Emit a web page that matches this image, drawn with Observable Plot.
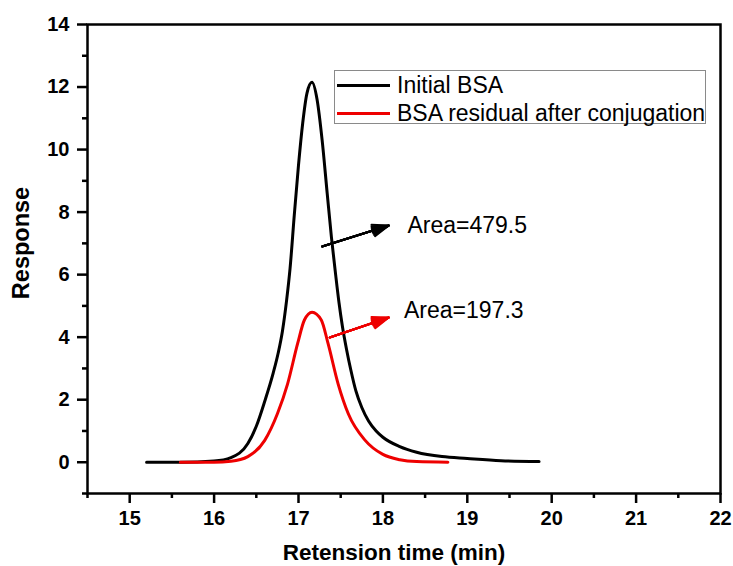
<!DOCTYPE html>
<html>
<head>
<meta charset="utf-8">
<script src="https://cdn.jsdelivr.net/npm/d3@7"></script>
<script src="https://cdn.jsdelivr.net/npm/@observablehq/plot@0.6"></script>
<style>
  html, body { margin: 0; padding: 0; background: #fff; }
  #wrap { position: relative; width: 733px; height: 566px; font-family: "Liberation Sans", Arial, sans-serif; }
  #legend { position: absolute; left: 334px; top: 70px; width: 372px; height: 54px; border: 1px solid #8a8a8a; background: #fff; box-sizing: border-box; }
  .row { position: absolute; left: 2px; height: 26px; display: flex; align-items: center; font-size: 23px; color: #000; white-space: nowrap; }
  .swatch { width: 53px; height: 3px; margin-right: 7px; }
  .title { position: absolute; font-weight: bold; color: #000; white-space: nowrap; line-height: 1; }
  #xtitle { left: 394px; top: 553px; font-size: 22.5px; transform: translate(-50%, -50%); }
  #ytitle { left: 22px; top: 243px; font-size: 23.5px; transform: translate(-50%, -50%) rotate(-90deg); }
</style>
</head>
<body>
<div id="wrap"></div>
<script>
// ---- data ----
const seriesNames = ["Initial BSA", "BSA residual after conjugation"];
const seriesColors = ["#000000", "#ee0000"];

const initialTime = [15.2, 15.6, 16.0, 16.2, 16.4, 16.5, 16.6, 16.7, 16.76, 16.81, 16.86, 16.9, 16.95, 17.0, 17.05, 17.1, 17.16, 17.22, 17.28, 17.34, 17.39, 17.44, 17.48, 17.52, 17.57, 17.62, 17.68, 17.75, 17.83, 17.92, 18.0, 18.2, 18.4, 18.7, 19.0, 19.4, 19.85];
const initialResponse = [0, 0, 0.04, 0.15, 0.6, 1.15, 1.95, 2.85, 3.5, 4.2, 5.2, 6.2, 7.9, 9.5, 10.85, 11.8, 12.15, 11.6, 10.3, 8.6, 7.2, 6.0, 5.1, 4.35, 3.6, 2.95, 2.28, 1.75, 1.32, 1.0, 0.8, 0.5, 0.32, 0.18, 0.12, 0.05, 0.02];

const residualTime = [15.6, 16.0, 16.2, 16.4, 16.6, 16.75, 16.87, 16.99, 17.07, 17.16, 17.27, 17.35, 17.47, 17.59, 17.79, 18.0, 18.2, 18.4, 18.77];
const residualResponse = [0, 0, 0.03, 0.18, 0.7, 1.55, 2.5, 3.8, 4.55, 4.8, 4.55, 3.8, 2.5, 1.55, 0.7, 0.25, 0.08, 0.02, 0];

const xMajorTicks = [15, 16, 17, 18, 19, 20, 21, 22];
const xMinorTicks = [14.5, 15.5, 16.5, 17.5, 18.5, 19.5, 20.5, 21.5];
const yMajorTicks = [0, 2, 4, 6, 8, 10, 12, 14];
const yMinorTicks = [-1, 1, 3, 5, 7, 9, 11, 13];

const annotationLabels = ["Area=479.5", "Area=197.3"];
const annotationColors = ["#000000", "#ee0000"];
const arrowStartX = [17.28, 17.37];
const arrowStartY = [6.9, 3.99];
const arrowEndX = [18.07, 18.07];
const arrowEndY = [7.57, 4.63];
const labelX = [18.29, 18.25];
const labelY = [7.58, 4.85];

const xTitle = "Retension time (min)";
const yTitle = "Response";

// ---- build tables ----
const initial = initialTime.map((t, i) => ({t, r: initialResponse[i]}));
const residual = residualTime.map((t, i) => ({t, r: residualResponse[i]}));
const annotations = annotationLabels.map((label, i) => ({
  label, color: annotationColors[i],
  x1: arrowStartX[i], y1: arrowStartY[i], x2: arrowEndX[i], y2: arrowEndY[i],
  lx: labelX[i], ly: labelY[i]
}));

const font = "'Liberation Sans', Arial, sans-serif";
// layered chevrons of decreasing angle give a filled-looking arrowhead
const headAngles = [40, 30, 20, 12, 5];

const chart = Plot.plot({
  width: 733,
  height: 566,
  marginLeft: 87,
  marginRight: 13,
  marginTop: 24,
  marginBottom: 73,
  style: {fontFamily: font, background: "#fff", color: "#000"},
  x: {domain: [14.5, 22]},
  y: {domain: [-1, 14]},
  marks: [
    Plot.axisX(xMajorTicks, {tickSize: 10, tickPadding: 7, fontSize: 21, fontWeight: "bold", strokeWidth: 2.5, label: null}),
    Plot.axisX(xMinorTicks, {tickSize: 5, tickFormat: () => "", strokeWidth: 2.5, label: null}),
    Plot.axisY(yMajorTicks, {tickSize: 10, tickPadding: 8, fontSize: 21, fontWeight: "bold", strokeWidth: 2.5, label: null}),
    Plot.axisY(yMinorTicks, {tickSize: 5, tickFormat: () => "", strokeWidth: 2.5, label: null}),
    Plot.line(initial, {x: "t", y: "r", stroke: seriesColors[0], strokeWidth: 3, curve: "monotone-x"}),
    Plot.line(residual, {x: "t", y: "r", stroke: seriesColors[1], strokeWidth: 3, curve: "monotone-x"}),
    ...headAngles.map(a => Plot.arrow(annotations, {x1: "x1", y1: "y1", x2: "x2", y2: "y2", stroke: "color", strokeWidth: 2, headLength: 13, headAngle: a})),
    Plot.text(annotations, {x: "lx", y: "ly", text: "label", fill: "#000", fontSize: 23, textAnchor: "start", lineAnchor: "middle", className: "annot"}),
    Plot.frame({stroke: "#000", strokeWidth: 2.5})
  ]
});

// enforce tick-label font on every axis text (all svg text except the annotations)
d3.select(chart).selectAll("text").each(function () {
  if (this.closest(".annot")) return;
  if (this.textContent === "Area=479.5" || this.textContent === "Area=197.3") return;
  this.style.fontSize = "20px";
  this.style.fontWeight = "bold";
  this.style.fontFamily = font;
});

const wrap = document.getElementById("wrap");
wrap.appendChild(chart);

const xt = document.createElement("div");
xt.id = "xtitle"; xt.className = "title"; xt.textContent = xTitle;
wrap.appendChild(xt);
const yt = document.createElement("div");
yt.id = "ytitle"; yt.className = "title"; yt.textContent = yTitle;
wrap.appendChild(yt);

const legend = document.createElement("div");
legend.id = "legend";
seriesNames.forEach((name, i) => {
  const row = document.createElement("div");
  row.className = "row";
  row.style.top = (i === 0 ? 1 : 29) + "px";
  const sw = document.createElement("div");
  sw.className = "swatch";
  sw.style.background = seriesColors[i];
  const label = document.createElement("span");
  label.textContent = name;
  row.appendChild(sw);
  row.appendChild(label);
  legend.appendChild(row);
});
wrap.appendChild(legend);
</script>
</body>
</html>
